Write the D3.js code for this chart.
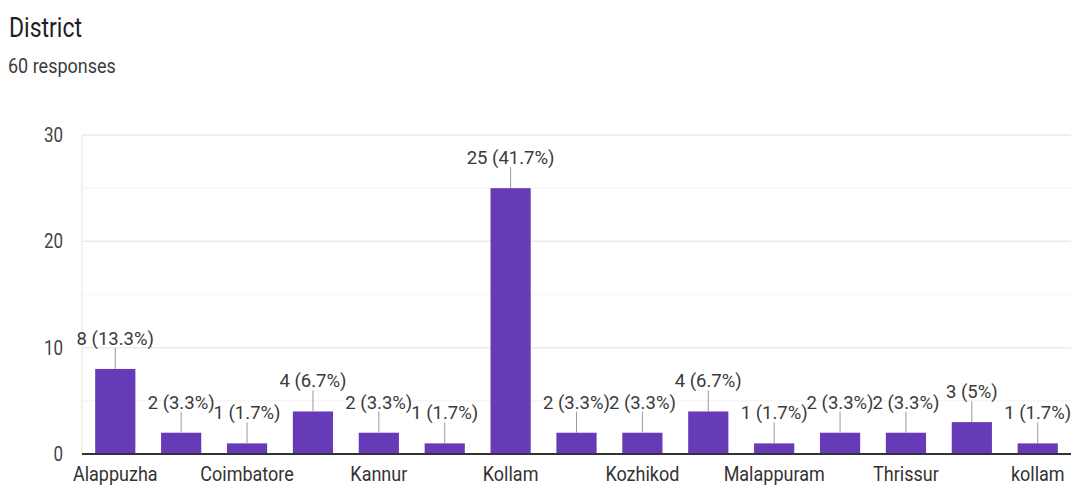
<!DOCTYPE html>
<html>
<head>
<meta charset="utf-8">
<script src="https://cdn.jsdelivr.net/npm/d3@7"></script>
<style>
  body { margin: 0; background: #fff; }
  svg { display: block; font-family: Roboto, sans-serif; }
</style>
</head>
<body>
<div id="chart"></div>
<script>
const title = 'District';
const subtitle = '60 responses';
const districts = ['Alappuzha', 'Alleppey', 'Coimbatore', 'Ernakulam', 'Kannur', 'Kasaragod', 'Kollam',
  'Kottayam', 'Kozhikod', 'Kozhikode', 'Malappuram', 'Palakkad', 'Thrissur', 'Trivandrum', 'kollam'];
const counts = [8, 2, 1, 4, 2, 1, 25, 2, 2, 4, 1, 2, 2, 3, 1];
const percents = ['13.3%', '3.3%', '1.7%', '6.7%', '3.3%', '1.7%', '41.7%', '3.3%', '3.3%', '6.7%', '1.7%', '3.3%', '3.3%', '5%', '1.7%'];
const yTicks = [0, 10, 20, 30];
const yMinor = [5, 15, 25];

const width = 1072;
const height = 488;
const margin = { top: 135, right: 1, bottom: 34, left: 82 };
const stretchY = 1.17; // the screenshot text looks a bit taller than wide

// move x/y into a transform so the glyphs can be stretched vertically
const stretch = sel => sel.each(function() {
  const t = d3.select(this);
  const tx = +t.attr('x') || 0;
  const ty = +t.attr('y') || 0;
  t.attr('x', 0).attr('y', 0)
    .attr('transform', `translate(${tx},${ty}) scale(1,${stretchY})`);
});

const svg = d3.select('#chart').append('svg')
  .attr('width', width)
  .attr('height', height);

svg.append('text')
  .attr('x', 9).attr('y', 37)
  .attr('font-size', 23)
  .attr('fill', '#202124')
  .text(title)
  .call(stretch);

svg.append('text')
  .attr('x', 8).attr('y', 73)
  .attr('font-size', 18)
  .attr('fill', '#3c3c3c')
  .text(subtitle)
  .call(stretch);

const x = d3.scaleBand()
  .domain(districts)
  .range([margin.left, width - margin.right])
  .paddingInner(0.39)
  .paddingOuter(0.2);

const y = d3.scaleLinear()
  .domain([0, 30])
  .range([height - margin.bottom, margin.top]);

const g = svg.append('g');

// minor + major gridlines
g.selectAll('line.minor').data(yMinor).join('line')
  .attr('class', 'minor')
  .attr('x1', margin.left).attr('x2', width - margin.right)
  .attr('y1', d => y(d)).attr('y2', d => y(d))
  .attr('stroke', '#f6f6f6').attr('stroke-width', 1.5);

g.selectAll('line.major').data(yTicks.filter(d => d > 0)).join('line')
  .attr('class', 'major')
  .attr('x1', margin.left).attr('x2', width - margin.right)
  .attr('y1', d => y(d)).attr('y2', d => y(d))
  .attr('stroke', '#ebebeb').attr('stroke-width', 1.5);

g.append('line')
  .attr('x1', margin.left).attr('x2', margin.left)
  .attr('y1', y(30)).attr('y2', y(0))
  .attr('stroke', '#ebebeb').attr('stroke-width', 1.5);

// y axis labels
const yAxis = d3.axisLeft(y).tickValues(yTicks).tickSize(0).tickPadding(19);
svg.append('g')
  .attr('transform', `translate(${margin.left},0)`)
  .call(yAxis)
  .call(a => a.select('.domain').remove())
  .call(a => a.selectAll('text').attr('font-size', 17).attr('fill', '#444').attr('font-family', 'Roboto, sans-serif').call(stretch));

// bars
svg.append('g').selectAll('rect').data(counts).join('rect')
  .attr('x', (d, i) => x(districts[i]))
  .attr('y', d => y(d))
  .attr('width', x.bandwidth())
  .attr('height', d => y(0) - y(d))
  .attr('fill', '#673ab7');

// leader lines and value labels
const labels = svg.append('g');
labels.selectAll('line').data(counts).join('line')
  .attr('x1', (d, i) => x(districts[i]) + x.bandwidth() / 2)
  .attr('x2', (d, i) => x(districts[i]) + x.bandwidth() / 2)
  .attr('y1', d => y(d))
  .attr('y2', d => y(d) - 21)
  .attr('stroke', '#999').attr('stroke-width', 1);

labels.selectAll('text').data(counts).join('text')
  .attr('x', (d, i) => x(districts[i]) + x.bandwidth() / 2)
  .attr('y', d => y(d) - 24)
  .attr('text-anchor', 'middle')
  .attr('font-size', 18.5)
  .attr('fill', '#3a3a3a')
  .text((d, i) => `${d} (${percents[i]})`);

// baseline
svg.append('line')
  .attr('x1', margin.left).attr('x2', width - margin.right)
  .attr('y1', y(0)).attr('y2', y(0))
  .attr('stroke', '#333').attr('stroke-width', 2);

// x axis: every other label
const xAxis = d3.axisBottom(x).tickSize(0).tickPadding(12)
  .tickFormat((d, i) => i % 2 === 0 ? d : '');
svg.append('g')
  .attr('transform', `translate(0,${y(0)})`)
  .call(xAxis)
  .call(a => a.select('.domain').remove())
  .call(a => a.selectAll('text').attr('font-size', 18).attr('fill', '#333').attr('font-family', 'Roboto, sans-serif').call(stretch));
</script>
</body>
</html>
